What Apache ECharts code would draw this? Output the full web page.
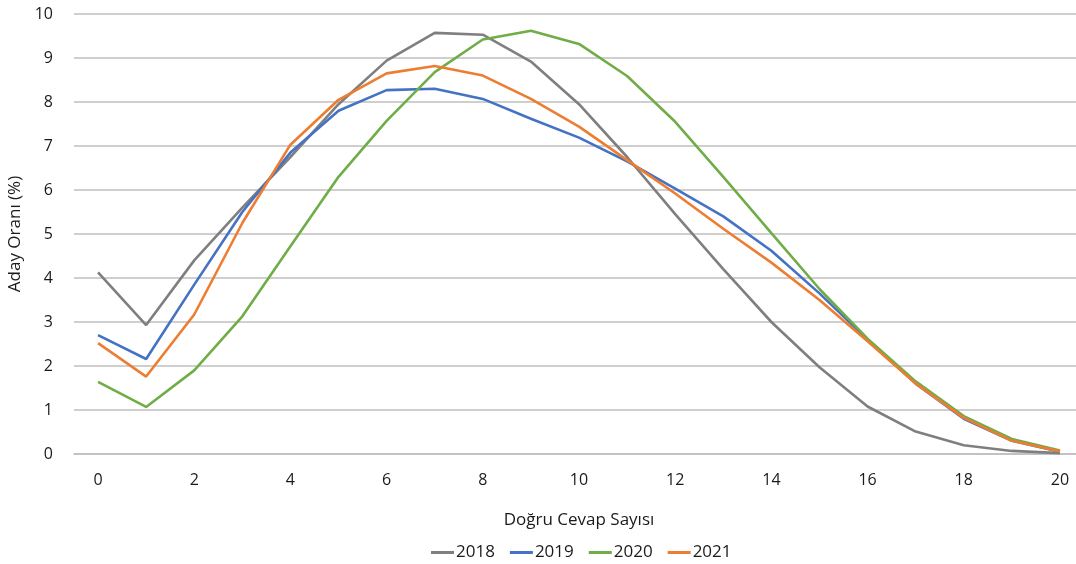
<html>
<head>
<meta charset="utf-8">
<script src="https://cdn.jsdelivr.net/npm/echarts@6/dist/echarts.min.js"></script>
</head>
<body>
<style>
    html, body, #main {
        width: 100%;
        height: 100%;
        margin: 0;
        background: #fff;
    }
</style>
<div id="main"></div>
<script>
    // doğru cevap sayısı 0..20
    var categories = ['0','1','2','3','4','5','6','7','8','9','10','11','12','13','14','15','16','17','18','19','20'];

    var years = ['2018', '2019', '2020', '2021'];
    var colors = ['#7f7f7f', '#4472c4', '#70ad47', '#ed7d31'];

    var data2018 = [4.13, 2.93, 4.4, 5.6, 6.75, 7.95, 8.94, 9.57, 9.53, 8.92, 7.95, 6.75, 5.45, 4.2, 3.0, 1.97, 1.08, 0.51, 0.2, 0.07, 0.02];
    var data2019 = [2.7, 2.16, 3.85, 5.5, 6.85, 7.8, 8.27, 8.3, 8.07, 7.62, 7.19, 6.65, 6.03, 5.4, 4.62, 3.65, 2.6, 1.6, 0.8, 0.3, 0.05];
    var data2020 = [1.64, 1.07, 1.9, 3.13, 4.72, 6.3, 7.57, 8.68, 9.42, 9.62, 9.32, 8.59, 7.55, 6.3, 5.02, 3.75, 2.62, 1.65, 0.86, 0.34, 0.08];
    var data2021 = [2.52, 1.76, 3.17, 5.25, 7.03, 8.05, 8.65, 8.82, 8.6, 8.07, 7.44, 6.68, 5.92, 5.12, 4.35, 3.5, 2.56, 1.6, 0.82, 0.3, 0.06];

    var allData = [data2018, data2019, data2020, data2021];

    var font = '"Open Sans", sans-serif';
    var textColor = '#1a1a1a';

    var series = [];
    for (var i = 0; i < years.length; i++) {
        series.push({
            name: years[i],
            type: 'line',
            data: allData[i],
            symbol: 'none',
            smooth: false,
            lineStyle: { width: 2.6, color: colors[i] },
            itemStyle: { color: colors[i] }
        });
    }

    var chart = echarts.init(document.getElementById('main'));
    var option = {
        animation: false,
        textStyle: { fontFamily: font },
        grid: { left: 74, top: 14, width: 1010, height: 440, containLabel: false, outerBoundsMode: 'none' },
        legend: {
            data: years,
            top: 539,
            left: 426,
            icon: 'rect',
            itemWidth: 23,
            itemHeight: 3,
            itemGap: 15,
            textStyle: { fontSize: 17, color: textColor, fontFamily: font, padding: [0, 0, 0, -3] }
        },
        xAxis: {
            type: 'category',
            data: categories,
            boundaryGap: true,
            name: 'Doğru Cevap Sayısı',
            nameLocation: 'middle',
            nameGap: 58,
            nameTextStyle: { fontSize: 17, color: textColor, fontFamily: font },
            axisLine: { show: true, lineStyle: { color: '#bfbfbf', width: 1.5 } },
            axisTick: { show: false },
            axisLabel: { interval: 1, fontSize: 16, color: textColor, margin: 18, fontFamily: font }
        },
        yAxis: {
            type: 'value',
            min: 0,
            max: 10,
            interval: 1,
            name: 'Aday Oranı (%)',
            nameLocation: 'middle',
            nameGap: 48,
            nameRotate: 90,
            nameTextStyle: { fontSize: 17, color: textColor, fontFamily: font },
            axisLine: { show: false },
            axisTick: { show: false },
            axisLabel: { fontSize: 16, color: textColor, margin: 21, fontFamily: font },
            splitLine: { lineStyle: { color: '#bfbfbf', width: 1.5 } }
        },
        series: series
    };

    chart.setOption(option);
    window.onresize = chart.resize;
</script>
</body>
</html>
